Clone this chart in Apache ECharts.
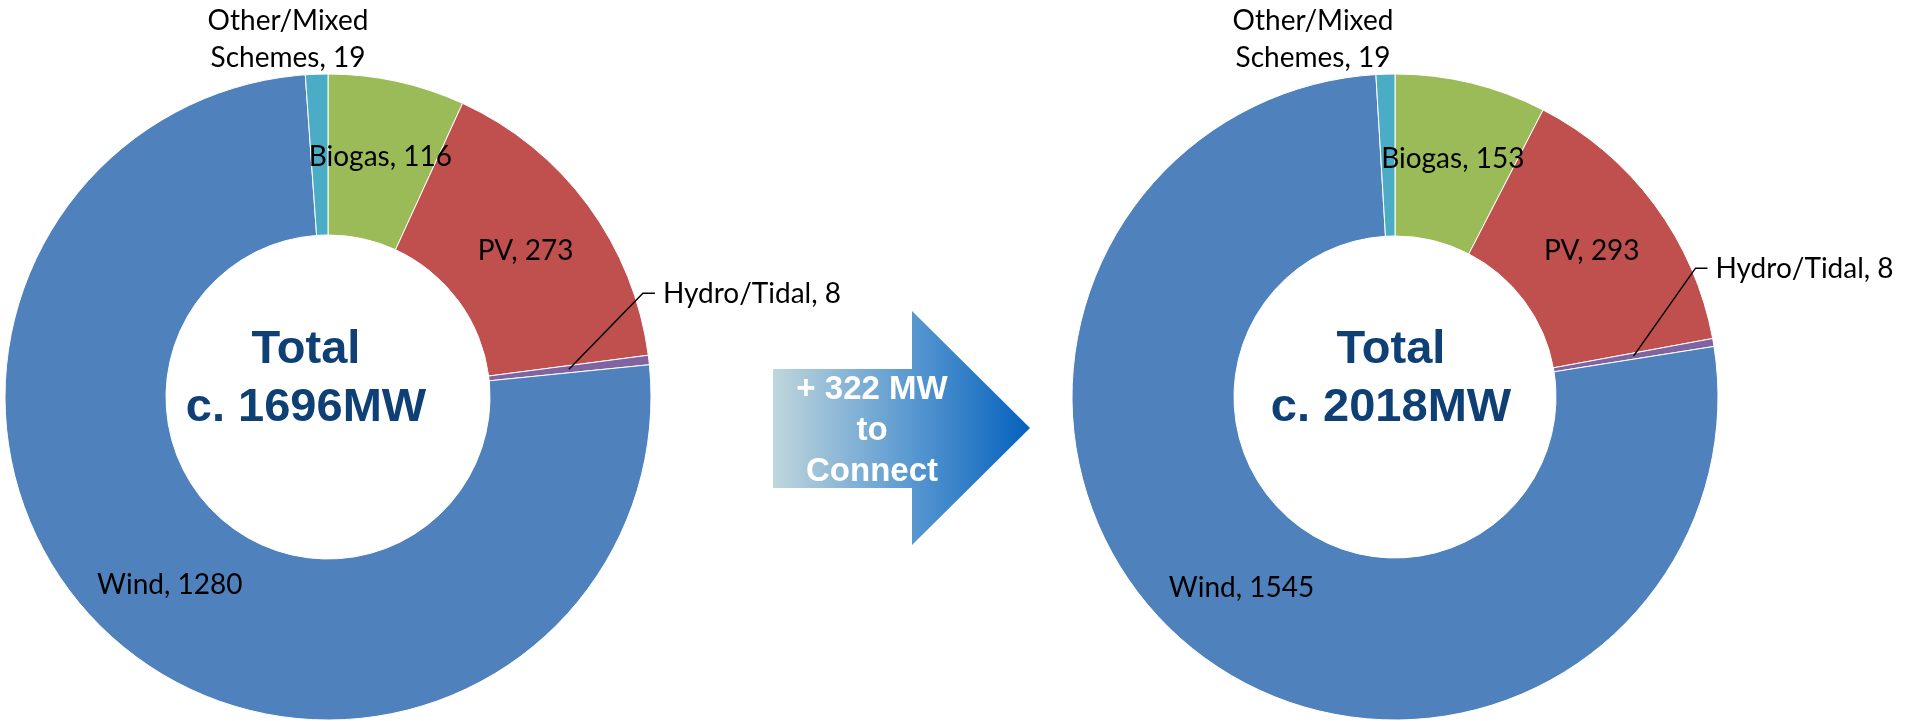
<!DOCTYPE html>
<html>
<head>
<meta charset="utf-8">
<title>Generation capacity</title>
<script src="https://cdn.jsdelivr.net/npm/echarts@6/dist/echarts.min.js"></script>
<style>
  html, body { margin: 0; padding: 0; background: #fff; }
  #main { width: 1909px; height: 721px; }
</style>
</head>
<body>
<div id="main"></div>
<script>
// 数据
const categories = ["Biogas", "PV", "Hydro/Tidal", "Wind", "Other/Mixed\nSchemes"];
const beforeValues = [116, 273, 8, 1280, 19];
const afterValues = [153, 293, 8, 1545, 19];
const sliceColors = ["#9bbb59", "#c0504d", "#8064a2", "#4f81bd", "#4bacc6"];

// 布局（两个环形图）
const pies = [
  { values: beforeValues, cx: 328, cy: 397, r0: 162, r: 323, totalDx: -22, elbow: [74, -76], other: [-40, -358] },
  { values: afterValues, cx: 1395, cy: 397, r0: 161, r: 323, totalDx: -4, elbow: [62, -88], other: [-82, -358] },
];

const HYDRO = 2;
const OTHER = 4;

const sum = (arr) => arr.reduce((a, b) => a + b, 0);

// 扇区中线角度（从12点钟顺时针）
function midAngle(values, idx) {
  const before = sum(values.slice(0, idx));
  return ((before + values[idx] / 2) / sum(values)) * Math.PI * 2;
}

function leaderPoints(p) {
  const a = midAngle(p.values, HYDRO);
  const rm = (p.r0 + p.r) / 2;
  const start = [p.cx + rm * Math.sin(a), p.cy - rm * Math.cos(a)];
  const elbow = [start[0] + p.elbow[0], start[1] + p.elbow[1]];
  const end = [elbow[0] + 12, elbow[1]];
  return [start, elbow, end];
}

const chart = echarts.init(document.getElementById("main"));

const series = pies.map((p, si) => ({
  type: "pie",
  center: [p.cx, p.cy],
  radius: [p.r0, p.r],
  startAngle: 90,
  clockwise: true,
  avoidLabelOverlap: false,
  silent: true,
  animation: false,
  itemStyle: { borderColor: "#ffffff", borderWidth: 1 },
  label: {
    show: true,
    position: "inside",
    formatter: (d) => d.name + ", " + d.value,
    color: "#000",
    fontFamily: "Lato",
    fontSize: 28,
    lineHeight: 37,
    textBorderWidth: 0,
  },
  labelLine: { show: false },
  labelLayout: (params) => {
    if (params.dataIndex === OTHER) {
      return { x: p.cx + p.other[0], y: p.cy + p.other[1], align: "center", verticalAlign: "middle" };
    }
    if (params.dataIndex === HYDRO) {
      const pts = leaderPoints(p);
      return { x: pts[2][0] + 8, y: pts[2][1] + 1, align: "left", verticalAlign: "middle" };
    }
    return {};
  },
  data: categories.map((name, i) => ({
    name: name,
    value: p.values[i],
    itemStyle: { color: sliceColors[i] },
  })),
}));

const graphics = [];

pies.forEach((p) => {
  // 中心总量
  graphics.push({
    type: "text",
    z: 100,
    x: p.cx + p.totalDx,
    y: p.cy - 18,
    style: {
      text: "Total\nc. " + sum(p.values) + "MW",
      fill: "#0e3f75",
      font: "bold 47px 'Liberation Sans', Arial, sans-serif",
      lineHeight: 58,
      align: "center",
      verticalAlign: "middle",
    },
  });
  // Hydro 引线
  graphics.push({
    type: "polyline",
    z: 100,
    shape: { points: leaderPoints(p) },
    style: { stroke: "#000", lineWidth: 1.5, fill: null },
  });
});

// 中间箭头
const added = sum(afterValues) - sum(beforeValues);
graphics.push({
  type: "polygon",
  z: 90,
  shape: {
    points: [[773, 369], [912, 369], [912, 311], [1030, 428], [912, 545], [912, 488], [773, 488]],
  },
  style: {
    fill: {
      type: "linear",
      x: 0, y: 0, x2: 1, y2: 0,
      colorStops: [
        { offset: 0, color: "#c0d6dc" },
        { offset: 0.54, color: "#5898d0" },
        { offset: 1, color: "#0561be" },
      ],
    },
  },
});
graphics.push({
  type: "text",
  z: 100,
  x: 872,
  y: 431,
  style: {
    text: "+ " + added + " MW\nto\nConnect",
    fill: "#ffffff",
    font: "bold 33px 'Liberation Sans', Arial, sans-serif",
    lineHeight: 41,
    align: "center",
    verticalAlign: "middle",
  },
});

chart.setOption({
  animation: false,
  series: series,
  graphic: graphics,
});

window.addEventListener("resize", () => chart.resize());
</script>
</body>
</html>
